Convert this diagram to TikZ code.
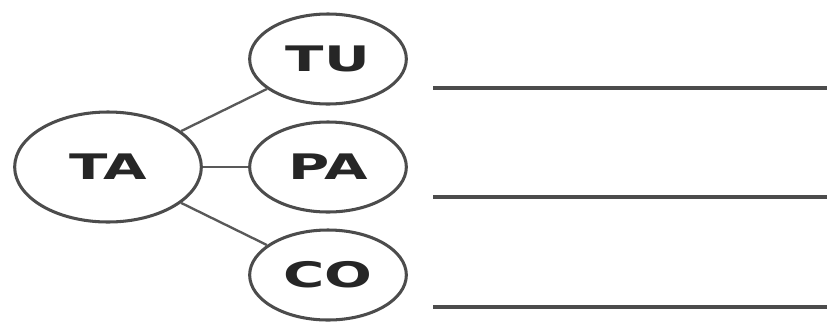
\documentclass[tikz,border=0pt]{standalone}
\usepackage{graphicx}
\usepackage{fontspec}
\setmainfont{DejaVu Sans}
\usetikzlibrary{shapes.geometric}
\usetikzlibrary{calc}

\newcommand{\widetext}[1]{\scalebox{1.6}[1]{#1}}

\begin{document}
\begin{tikzpicture}[x=0.03cm, y=-0.03cm,
  bubble/.style={ellipse, draw=black!70, line width=2.6pt, inner sep=0pt,
    minimum width=4.7cm, minimum height=2.7cm, text=black!85,
    font=\fontsize{30}{34}\selectfont\bfseries},
  link/.style={draw=black!65, line width=2pt},
  rule/.style={draw=black!70, line width=2.8pt}]
\useasboundingbox (0,0) rectangle (827,322);
\node[bubble, minimum width=5.6cm, minimum height=3.3cm] (v1) at (108,167) {\widetext{TA}};
\node[bubble] (v2) at (328,59) {\widetext{TU}};
\node[bubble] (v3) at (328,167) {\widetext{PA}};
\node[bubble] (v4) at (328,275) {\widetext{CO}};
\draw[link] (v1) -- (v2);
\draw[link] (v1) -- (v3);
\draw[link] (v1) -- (v4);
% answer lines
\coordinate (r1a) at (433,88);  \coordinate (r1b) at (827,88);
\coordinate (r2a) at (433,197); \coordinate (r2b) at (827,197);
\coordinate (r3a) at (433,307); \coordinate (r3b) at (827,307);
\draw[rule] (r1a) -- (r1b);
\draw[rule] (r2a) -- (r2b);
\draw[rule] (r3a) -- (r3b);
\end{tikzpicture}
\end{document}
